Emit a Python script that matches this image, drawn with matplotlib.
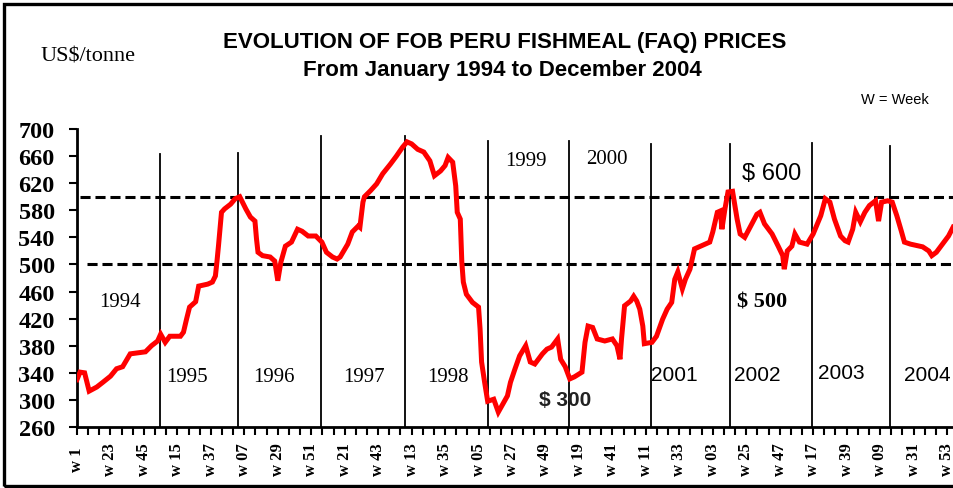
import matplotlib
matplotlib.use("Agg")
import matplotlib.pyplot as plt
import matplotlib.patches as patches
import numpy as np

# week index (0 = w1 of 1994) and FOB price
weeks = [0, 2, 5, 8, 13, 17, 22, 26, 30, 35, 45, 49, 53, 55, 58, 61, 68, 70, 72, 74,
         78, 80, 86, 89, 91, 92, 93, 95, 97, 101, 104, 107, 111, 114, 117, 118, 119, 122,
         127, 130, 132, 134, 137, 141, 145, 148, 152, 157, 161, 164, 168, 171, 173, 178,
         181, 185, 186, 188, 189, 193, 197, 201, 206, 210, 214, 217, 220, 224, 228, 232,
         235, 239, 242, 244, 247, 249, 250, 252, 253, 254, 256, 260, 264, 265, 266, 268,
         270, 274, 277, 279, 283, 285, 288, 291, 295, 298, 301, 306, 309, 312, 316, 318,
         321, 324, 327, 332, 334, 336, 339, 342, 347, 352, 355, 357, 358, 360, 364, 366,
         368, 370, 372, 373, 378, 381, 385, 388, 391, 393, 395, 398, 400, 403, 406, 410,
         416, 418, 421, 423, 424, 426, 428, 431, 434, 436, 439, 443, 447, 449, 452, 457,
         461, 464, 465, 467, 470, 472, 475, 480, 484, 489, 492, 495, 498, 502, 505, 507,
         510, 512, 515, 518, 521, 525, 527, 529, 533, 536, 539, 542, 544, 548, 556, 560,
         562, 565, 569, 573, 576]
prices = [330, 341, 340, 313, 319, 326, 335, 346, 349, 368, 371, 380, 387, 397, 385, 394, 394, 400, 419, 437,
          445, 468, 471, 474, 483, 504, 527, 577, 582, 589, 597, 600, 582, 570, 564, 538, 518, 513,
          511, 505, 476, 503, 527, 533, 552, 549, 542, 542, 533, 518, 511, 508, 511, 530,
          548, 557, 555, 592, 600, 609, 619, 634, 648, 660, 673, 681, 678, 670, 666, 653,
          631, 638, 646, 658, 651, 616, 577, 567, 504, 474, 456, 444, 437, 405, 356, 326,
          298, 301, 282, 290, 306, 326, 346, 365, 380, 356, 353, 368, 375, 378, 390, 360,
          349, 331, 334, 341, 385, 409, 407, 390, 387, 390, 380, 360, 390, 439, 446, 453,
          446, 434, 409, 383, 385, 394, 419, 434, 444, 478, 489, 464, 478, 493, 523, 527,
          533, 548, 577, 579, 552, 582, 607, 608, 567, 545, 540, 557, 574, 577, 560, 545,
          527, 513, 493, 520, 527, 545, 533, 530, 545, 572, 597, 592, 567, 542, 535, 533,
          552, 577, 563, 577, 587, 594, 564, 592, 594, 592, 572, 549, 533, 530, 526, 520,
          513, 518, 530, 542, 555]

week_labels = ["w 1", "w 23", "w 45", "w 15", "w 37", "w 07", "w 29", "w 51", "w 21",
               "w 43", "w 13", "w 35", "w 05", "w 27", "w 49", "w 19", "w 41", "w 11",
               "w 33", "w 03", "w 25", "w 47", "w 17", "w 39", "w 09", "w 31", "w 53"]
y_ticks = list(range(260, 701, 40))

year_lines = [54.6, 105.9, 160.4, 215.6, 270.2, 323.5, 377.4, 429.3, 483.2, 534.5]
year_line_tops = [663, 665, 690, 690, 682, 682, 678, 678, 680, 675]

years = ["1994", "1995", "1996", "1997", "1998", "1999", "2000", "2001", "2002", "2003", "2004"]
year_x = [28.3, 72.3, 129.5, 188.7, 243.9, 295.2, 348.5, 392.5, 447.1, 502.3, 558.9]
year_y = [445, 334, 334, 334, 334, 654, 657, 337, 337, 341, 338]

fig = plt.figure(figsize=(9.54, 4.89), dpi=100)
ax = fig.add_axes([77 / 954, 1 - 428 / 489, (954 - 77) / 954, 298 / 489])

ax.plot(weeks, prices, color='#ff0000', lw=3.6, solid_joinstyle='miter', zorder=4)

# $600 / $500 reference lines
ax.axhline(600, xmin=0.003, xmax=1, color='black', lw=2.2, ls=(0, (3.3, 1.6)), zorder=3)
ax.axhline(500, xmin=0.011, xmax=1, color='black', lw=2.2, ls=(0, (3.3, 1.6)), zorder=3)

# year separators
for xv, top in zip(year_lines, year_line_tops):
    ax.plot([xv, xv], [260, top], color='black', lw=1.3, zorder=2)

serif = ['Liberation Serif', 'DejaVu Serif']
sans = ['Liberation Sans', 'DejaVu Sans']

for i, (lab, xv, yv) in enumerate(zip(years, year_x, year_y)):
    fam = sans if i >= 7 else serif
    ax.text(xv, yv, lab, ha='center', va='center', fontsize=15, family=fam, zorder=5)

ax.text(320.9, 301, "$ 300", ha='center', va='center', fontsize=15, family=sans,
        fontweight='bold', color='#222222')
ax.text(457, 635, "$ 600", ha='center', va='center', fontsize=17, family=sans)
ax.text(450.4, 445, "$ 500", ha='center', va='center', fontsize=16, family=serif,
        fontweight='bold')

ax.set_xlim(0, 576.6)
ax.set_ylim(260, 700)
ax.set_yticks(y_ticks)
ax.set_yticklabels([str(v) for v in y_ticks], family=serif, fontweight='bold', fontsize=17.5)
ax.tick_params(axis='y', direction='out', length=6, width=1.5, pad=10)

tick_pos = np.arange(0, 573, 22)
ax.set_xticks(tick_pos)
ax.set_xticks(np.arange(0, 573, 22 / 3), minor=True)
ax.set_xticklabels([])
ax.tick_params(axis='x', which='both', direction='out', length=6, width=1.5)
for xv, lab in zip(tick_pos, week_labels):
    ax.text(xv, -0.107, lab, transform=ax.get_xaxis_transform(), rotation=90,
            ha='center', va='center', fontsize=12, family=serif, fontweight='bold')

for s in ['top', 'right']:
    ax.spines[s].set_visible(False)
ax.spines['left'].set_linewidth(2)
ax.spines['bottom'].set_linewidth(2)

fig.text(0.529, 0.914, "EVOLUTION OF FOB PERU FISHMEAL (FAQ) PRICES", ha='center',
         va='center', fontsize=16, family=sans, fontweight='bold')
fig.text(0.527, 0.855, "From January 1994 to December 2004", ha='center',
         va='center', fontsize=16, family=sans, fontweight='bold')
fig.text(0.092, 0.883, "US$/tonne", ha='center', va='center', fontsize=16, family=serif)
fig.text(0.938, 0.796, "W = Week", ha='center', va='center', fontsize=10.5, family=sans)

fig.patches.append(patches.Rectangle((0.004, 0.004), 1.1, 0.986, transform=fig.transFigure,
                                     fill=False, lw=2.4, edgecolor='black'))

fig.savefig("out.png", dpi=100)
